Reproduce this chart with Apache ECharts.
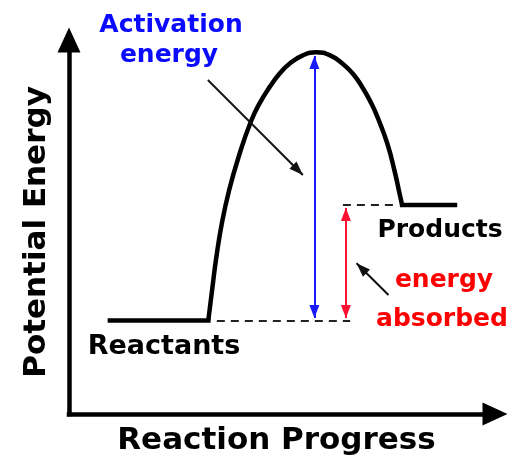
<!DOCTYPE html>
<html>
<head>
<meta charset="utf-8">
<style>
  html, body { margin: 0; padding: 0; background: #fff; }
  #chart { width: 527px; height: 462px; }
</style>
<script src="https://cdn.jsdelivr.net/npm/echarts@6/dist/echarts.min.js"></script>
</head>
<body>
<div id="chart"></div>
<script>
// reaction progress (x) and potential energy (y), both on a 0..100 scale
var reactantsProgress = [9.6, 32.7];
var reactantsEnergy = 25;
var productsProgress = [78.2, 90.6];
var productsEnergy = 55.9;

var barrierProgress = [32.7, 33.6, 34.6, 35.9, 37.6, 39.8, 42.7, 44.8, 47.2, 49.5, 51.9, 54.9, 58.0,
	61.3, 64.3, 66.7, 69.0, 70.9, 72.3, 74.7, 76.5, 77.7, 78.2];
var barrierEnergy = [25, 33.2, 42.0, 51.1, 59.9, 68.7, 78.2, 83.2, 87.6, 91.1, 93.8, 95.9, 96.7,
	95.9, 93.6, 90.9, 87.1, 83.2, 79.7, 72.4, 64.6, 58.4, 55.9];

// annotation arrows
var activationX = 57.6, activationTop = 95.7, arrowBottom = 25.7;
var absorbedX = 65.0, absorbedTop = 55.1;
var reactantsGuide = [34.7, 66.0];
var productsGuide = [64.3, 77.2];
var pointerActivation = [[32.6, 89.3], [54.9, 63.9]];
var pointerAbsorbed = [[75.0, 31.8], [67.5, 40.3]];

var xName = 'Reaction Progress';
var yName = 'Potential Energy';

var FONT = 'DejaVu Sans';

function toPairs(xs, ys) {
	var out = [];
	for (var i = 0; i < xs.length; i++) {
		out.push([xs[i], Array.isArray(ys) ? ys[i] : ys]);
	}
	return out;
}

function label(text, x, y, size, color) {
	return {
		type: 'text',
		x: x,
		y: y,
		silent: true,
		style: {
			text: text,
			fill: color,
			fontFamily: FONT,
			fontWeight: 'bold',
			fontSize: size,
			align: 'center',
			verticalAlign: 'middle'
		}
	}
}

function arrowSeries(name, color, width, symbols, size, offsets, pairs) {
	return {
		name: name,
		type: 'line',
		data: [],
		markLine: {
			silent: true,
			symbol: symbols,
			symbolSize: size,
			symbolOffset: offsets,
			label: { show: false },
			lineStyle: { color: color, width: width, type: 'solid' },
			data: pairs.map(function (p) {
				return [{ coord: p[0] }, { coord: p[1] }]
			})
		}
	}
}

var chart = echarts.init(document.getElementById('chart'));

var axisLine = {
	show: true,
	onZero: false,
	symbol: ['none', 'triangle'],
	symbolSize: [23, 25],
	lineStyle: { color: '#000', width: 4.5, cap: 'square' }
};

var option = {
	animation: false,
	backgroundColor: '#fff',
	grid: { left: 69, right: 32, top: 40, bottom: 48 },
	xAxis: {
		type: 'value',
		min: 0,
		max: 100,
		name: xName,
		nameLocation: 'middle',
		nameGap: 11,
		nameTextStyle: {
			color: '#000',
			fontFamily: FONT,
			fontWeight: 'bold',
			fontSize: 31,
			padding: [0, 11, 0, 0]
		},
		axisLine: axisLine,
		axisTick: { show: false },
		axisLabel: { show: false },
		splitLine: { show: false }
	},
	yAxis: {
		type: 'value',
		min: 0,
		max: 100,
		name: yName,
		nameLocation: 'middle',
		nameGap: 17,
		nameTextStyle: {
			color: '#000',
			fontFamily: FONT,
			fontWeight: 'bold',
			fontSize: 31,
			padding: [0, 10, 0, 0]
		},
		axisLine: axisLine,
		axisTick: { show: false },
		axisLabel: { show: false },
		splitLine: { show: false }
	},
	graphic: [
		label('Activation', 171, 25.5, 25, '#0a0aff'),
		label('energy', 169, 55.5, 25, '#0a0aff'),
		label('Products', 440, 230.5, 25, '#000'),
		label('energy', 444, 280.5, 25, '#ff0000'),
		label('absorbed', 442, 319.5, 25, '#ff0000'),
		label('Reactants', 164, 347, 27, '#000')
	],
	series: [
		{
			name: 'reactants',
			type: 'line',
			data: toPairs(reactantsProgress, reactantsEnergy),
			showSymbol: false,
			silent: true,
			lineStyle: { color: '#000', width: 4.5, cap: 'square' }
		},
		{
			name: 'barrier',
			type: 'line',
			data: toPairs(barrierProgress, barrierEnergy),
			smooth: 0.5,
			showSymbol: false,
			silent: true,
			lineStyle: { color: '#000', width: 4.5 }
		},
		{
			name: 'products',
			type: 'line',
			data: toPairs(productsProgress, productsEnergy),
			showSymbol: false,
			silent: true,
			lineStyle: { color: '#000', width: 4.5, cap: 'square' }
		},
		{
			name: 'guides',
			type: 'line',
			data: [],
			markLine: {
				silent: true,
				symbol: ['none', 'none'],
				label: { show: false },
				lineStyle: { color: '#222', width: 2, type: [8, 6] },
				data: [
					[{ coord: [reactantsGuide[0], reactantsEnergy] }, { coord: [reactantsGuide[1], reactantsEnergy] }],
					[{ coord: [productsGuide[0], productsEnergy] }, { coord: [productsGuide[1], productsEnergy] }]
				]
			}
		},
		arrowSeries('activation', '#1a1aff', 2, ['triangle', 'triangle'], [10, 13], [[0, 6.5], [0, 6.5]],
			[[[activationX, arrowBottom], [activationX, activationTop]]]),
		arrowSeries('absorbed', '#ff1030', 2, ['triangle', 'triangle'], [10, 13], [[0, 6.5], [0, 6.5]],
			[[[absorbedX, arrowBottom], [absorbedX, absorbedTop]]]),
		arrowSeries('pointers', '#111', 2, ['none', 'triangle'], [10, 14], [[0, 0], [0, 7]],
			[pointerActivation, pointerAbsorbed])
	]
};

chart.setOption(option);
</script>
</body>
</html>
